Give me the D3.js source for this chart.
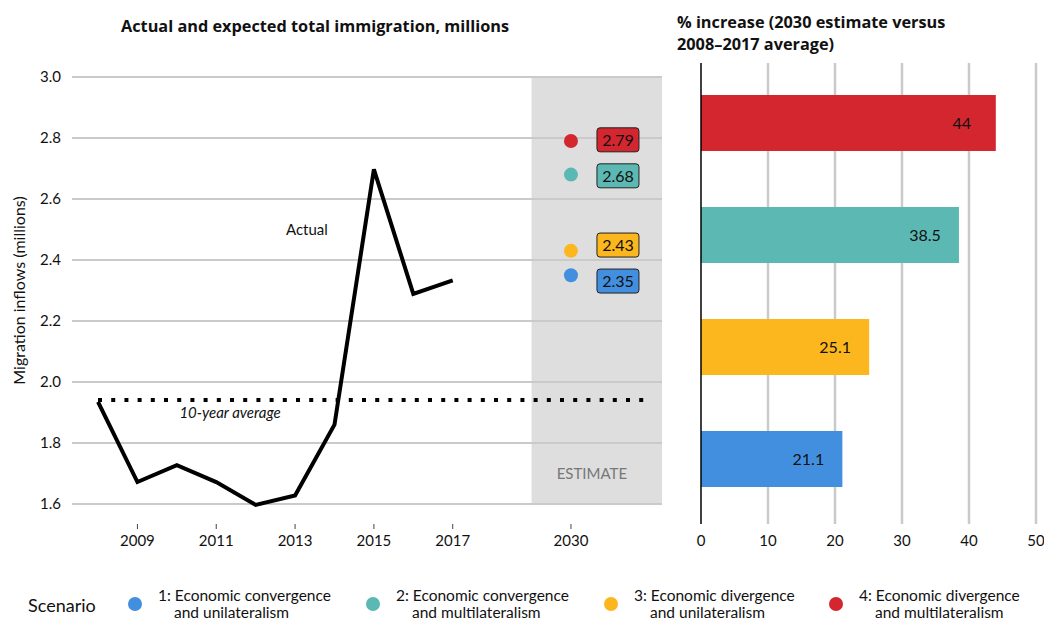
<!DOCTYPE html>
<html><head><meta charset="utf-8">
<script src="https://cdn.jsdelivr.net/npm/d3@7"></script>
<style>
body{margin:0;background:#fff;}
svg{display:block;font-family:Lato,"Open Sans",sans-serif;}
</style></head>
<body><svg id="c" width="1044" height="619"></svg>
<script>
// ---- data ----
const years = [2008, 2009, 2010, 2011, 2012, 2013, 2014, 2015, 2016, 2017];
const actual = [1.935, 1.672, 1.727, 1.672, 1.597, 1.628, 1.860, 2.697, 2.289, 2.333];
const scenarioIds = ["1", "2", "3", "4"];
const scenarioLine1 = ["1: Economic convergence", "2: Economic convergence", "3: Economic divergence", "4: Economic divergence"];
const scenarioLine2 = ["and unilateralism", "and multilateralism", "and unilateralism", "and multilateralism"];
const estimates2030 = [2.35, 2.68, 2.43, 2.79];
const pctIncrease = [21.1, 38.5, 25.1, 44];
const scenarioColors = ["#438fdf", "#5cb8b3", "#fdb71e", "#d3262f"];
const yTicks = [1.6, 1.8, 2.0, 2.2, 2.4, 2.6, 2.8, 3.0];
const xTickYears = [2009, 2011, 2013, 2015, 2017];
const estimateYear = 2030;
const barTicks = [0, 10, 20, 30, 40, 50];

const svg = d3.select("#c");
const grid = "#cacaca";
const titleFont = "'Open Sans', Lato, sans-serif";

// ---- left panel ----
const estimateSlot = 2020; // display slot for 2030 after an axis gap
const x = d3.scaleLinear().domain([2007.34, 2022.31]).range([72, 662]);
const y = d3.scaleLinear().domain([1.6, 3.0]).range([504, 77]);
const xPos = yr => x(yr === estimateYear ? estimateSlot : yr);

svg.append("rect").attr("x", x(2019)).attr("y", y(3.0) - 1)
  .attr("width", x(2022.31) - x(2019)).attr("height", y(1.6) - y(3.0) + 1)
  .attr("fill", "#dedede");

svg.append("g").selectAll("line").data(yTicks).join("line")
  .attr("x1", x.range()[0]).attr("x2", x.range()[1])
  .attr("y1", d => y(d)).attr("y2", d => y(d))
  .attr("stroke", grid).attr("stroke-width", 2);

svg.append("g").selectAll("text").data(yTicks).join("text")
  .attr("x", 61).attr("y", d => y(d)).attr("dy", "0.35em")
  .attr("text-anchor", "end").attr("font-size", 15).attr("fill", "#111")
  .text(d => d.toFixed(1));

const xt = xTickYears.concat([estimateYear]);
svg.append("g").selectAll("line").data(xt).join("line")
  .attr("x1", d => xPos(d)).attr("x2", d => xPos(d))
  .attr("y1", 524).attr("y2", 529).attr("stroke", "#444").attr("stroke-width", 1);
svg.append("g").selectAll("text").data(xt).join("text")
  .attr("x", d => xPos(d)).attr("y", 546).attr("text-anchor", "middle")
  .attr("font-size", 15).attr("fill", "#111").text(d => d);

svg.append("text").attr("transform", `translate(25,${(y(1.6) + y(3.0)) / 2}) rotate(-90)`)
  .attr("text-anchor", "middle").attr("font-size", 16).attr("fill", "#111")
  .text("Migration inflows (millions)");

svg.append("text").attr("x", 121).attr("y", 32).attr("font-size", 16.3)
  .attr("font-family", titleFont).attr("font-weight", "bold").attr("fill", "#111")
  .text("Actual and expected total immigration, millions");

// average line
const avg = d3.mean(actual);
svg.append("line").attr("x1", x(2008)).attr("x2", x(2021.95))
  .attr("y1", y(avg)).attr("y2", y(avg))
  .attr("stroke", "#000").attr("stroke-width", 4).attr("stroke-dasharray", "4 9.2");

// actual line
const line = d3.line().x((d, i) => x(years[i])).y(d => y(d));
svg.append("path").datum(actual).attr("d", line)
  .attr("fill", "none").attr("stroke", "#000").attr("stroke-width", 4)
  .attr("stroke-linejoin", "miter");

svg.append("text").attr("x", x(2013.3)).attr("y", y(2.5)).attr("dy", "0.35em")
  .attr("text-anchor", "middle").attr("font-size", 15).attr("fill", "#111").text("Actual");
svg.append("text").attr("x", x(2011.35)).attr("y", y(1.9)).attr("dy", "0.35em")
  .attr("text-anchor", "middle").attr("font-size", 15).attr("font-style", "italic")
  .attr("fill", "#111").text("10-year average");
svg.append("text").attr("x", x(2020.53)).attr("y", y(1.7)).attr("dy", "0.35em")
  .attr("text-anchor", "middle").attr("font-size", 15).attr("fill", "#777").text("ESTIMATE");

// estimate points
svg.append("g").selectAll("circle").data(estimates2030).join("circle")
  .attr("cx", xPos(estimateYear)).attr("cy", d => y(d)).attr("r", 7)
  .attr("fill", (d, i) => scenarioColors[i]);

// repelled labels
const lab = estimates2030.map((v, i) => ({v, i, py: y(v)})).sort((a, b) => a.py - b.py);
const minSep = 36;
for (let it = 0; it < 50; it++) {
  for (let k = 1; k < lab.length; k++) {
    const gap = lab[k].py - lab[k - 1].py;
    if (gap < minSep) { const s = (minSep - gap) / 2; lab[k - 1].py -= s; lab[k].py += s; }
  }
}
const lx = xPos(estimateYear) + 47;
const lg = svg.append("g").selectAll("g").data(lab).join("g")
  .attr("transform", d => `translate(${lx},${d.py})`);
lg.append("rect").attr("x", -21).attr("y", -12).attr("width", 42).attr("height", 24)
  .attr("rx", 3).attr("fill", d => scenarioColors[d.i]).attr("stroke", "#222").attr("stroke-width", 1);
lg.append("text").attr("text-anchor", "middle").attr("dy", "0.36em").attr("font-size", 16)
  .attr("fill", "#111").text(d => d.v.toFixed(2));

// ---- right panel ----
const xb = d3.scaleLinear().domain([0, 50]).range([701, 1036]);
const yb = d3.scaleBand().domain(["4", "2", "3", "1"]).range([67, 515]).paddingInner(0.5).paddingOuter(0.25);

svg.append("g").selectAll("line").data(barTicks.slice(1)).join("line")
  .attr("x1", d => xb(d)).attr("x2", d => xb(d)).attr("y1", 63).attr("y2", 524)
  .attr("stroke", grid).attr("stroke-width", 2.5);

svg.append("g").selectAll("rect").data(pctIncrease).join("rect")
  .attr("x", xb(0)).attr("y", (d, i) => yb(scenarioIds[i]))
  .attr("width", d => xb(d) - xb(0)).attr("height", yb.bandwidth())
  .attr("fill", (d, i) => scenarioColors[i]);

svg.append("g").selectAll("text").data(pctIncrease).join("text")
  .attr("x", d => xb(d) - 34).attr("y", (d, i) => yb(scenarioIds[i]) + yb.bandwidth() / 2)
  .attr("dy", "0.35em").attr("text-anchor", "middle").attr("font-size", 16).attr("fill", "#111")
  .text(d => d);

svg.append("line").attr("x1", xb(0)).attr("x2", xb(0)).attr("y1", 63).attr("y2", 524)
  .attr("stroke", "#000").attr("stroke-width", 1.5);

svg.append("g").selectAll("text").data(barTicks).join("text")
  .attr("x", d => xb(d)).attr("y", 546).attr("text-anchor", "middle")
  .attr("font-size", 15).attr("fill", "#111").text(d => d);

const rt = svg.append("text").attr("font-size", 16.3).attr("font-family", titleFont)
  .attr("font-weight", "bold").attr("fill", "#111");
rt.append("tspan").attr("x", 677).attr("y", 28).text("% increase (2030 estimate versus");
rt.append("tspan").attr("x", 677).attr("y", 50).text("2008\u20132017 average)");

// ---- legend ----
svg.append("text").attr("x", 28).attr("y", 612).attr("font-size", 18).attr("fill", "#111").text("Scenario");
const legX = [135, 373, 611, 836];
const leg = svg.append("g").selectAll("g").data(scenarioIds).join("g")
  .attr("transform", (d, i) => `translate(${legX[i]},604)`);
leg.append("circle").attr("r", 7).attr("fill", (d, i) => scenarioColors[i]);
const lt = leg.append("text").attr("font-size", 15.5).attr("fill", "#111");
lt.append("tspan").attr("x", 23).attr("y", -3).text((d, i) => scenarioLine1[i]);
lt.append("tspan").attr("x", 39).attr("y", 14).text((d, i) => scenarioLine2[i]);
</script></body></html>
